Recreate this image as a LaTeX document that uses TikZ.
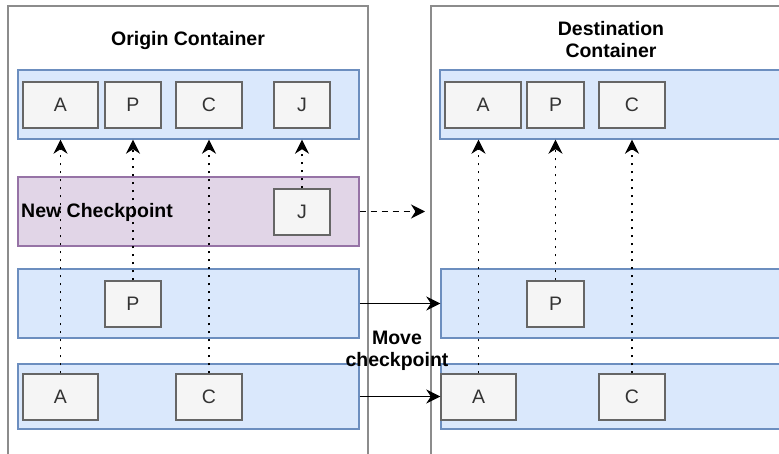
\documentclass[tikz,border=0pt]{standalone}
\usepackage{fontspec}
\setmainfont{Liberation Sans}
\usetikzlibrary{arrows.meta}
\definecolor{bluefill}{HTML}{DAE8FC}
\definecolor{bluedraw}{HTML}{6C8EBF}
\definecolor{purplefill}{HTML}{E1D5E7}
\definecolor{purpledraw}{HTML}{9673A6}
\definecolor{boxfill}{HTML}{F5F5F5}
\definecolor{boxdraw}{HTML}{666666}
\definecolor{boxtext}{HTML}{333333}
\definecolor{contdraw}{HTML}{8C8C8C}
\begin{document}
\begin{tikzpicture}[x=1pt,y=-1pt,
  container/.style={draw=contdraw, line width=1.3pt},
  rowblue/.style={draw=bluedraw, fill=bluefill, line width=1.4pt, inner sep=0pt, minimum height=69pt},
  rowpurple/.style={draw=purpledraw, fill=purplefill, line width=1.4pt, inner sep=0pt, minimum height=69pt},
  item/.style={draw=boxdraw, fill=boxfill, line width=1.4pt, inner sep=0pt, minimum height=46pt, text=boxtext, font=\fontsize{19.5}{22}\selectfont},
  titletext/.style={font=\fontsize{19.5}{22}\selectfont\bfseries, align=center, inner sep=0pt},
  dotarrow/.style={line width=1.6pt, dash pattern=on 2pt off 6pt, -{Stealth[length=14pt,width=14pt,inset=4.5pt]}},
  solidarrow/.style={line width=1.6pt, -{Stealth[length=14pt,width=14pt,inset=4.5pt]}},
  dasharrow/.style={line width=1.6pt, dash pattern=on 6pt off 5pt, -{Stealth[length=14pt,width=14pt,inset=4.5pt]}}
]
\useasboundingbox (0,0) rectangle (779,454);
\clip (0,0) rectangle (779,454);
\fill[white] (0,0) rectangle (779,454);

% containers
\draw[container] (8,6) rectangle (368,470);
\draw[container] (431,6) rectangle (800,470);

% titles
\node[titletext, anchor=base] (tOrigin) at (188,46) {Origin Container};
\node[titletext] (tDest) at (611,40) {Destination\\Container};

% origin rows
\node[rowblue, minimum width=341pt] (oTop) at (188.5,104.5) {};
\node[rowpurple, minimum width=341pt] (oNew) at (188.5,211.5) {};
\node[rowblue, minimum width=341pt] (oMid) at (188.5,303.5) {};
\node[rowblue, minimum width=341pt, minimum height=65pt] (oBot) at (188.5,396.5) {};

% destination rows
\node[rowblue, minimum width=360pt] (dTop) at (620,104.5) {};
\node[rowblue, minimum width=359pt] (dMid) at (620.5,303.5) {};
\node[rowblue, minimum width=359pt, minimum height=65pt] (dBot) at (620.5,396.5) {};

% origin boxes
\node[item, minimum width=75pt] (oA1) at (60.5,105) {A};
\node[item, minimum width=56pt] (oP1) at (133,105) {P};
\node[item, minimum width=66pt] (oC1) at (209,105) {C};
\node[item, minimum width=56pt] (oJ1) at (302,105) {J};
\node[item, minimum width=56pt] (oJ2) at (302,212) {J};
\node[item, minimum width=56pt] (oP2) at (133,304) {P};
\node[item, minimum width=75pt] (oA3) at (60.5,397) {A};
\node[item, minimum width=66pt] (oC3) at (209,397) {C};

% destination boxes
\node[item, minimum width=76pt] (dA1) at (483,105) {A};
\node[item, minimum width=57pt] (dP1) at (555.5,105) {P};
\node[item, minimum width=66pt] (dC1) at (632,105) {C};
\node[item, minimum width=57pt] (dP2) at (555.5,304) {P};
\node[item, minimum width=75pt] (dA3) at (478.5,397) {A};
\node[item, minimum width=66pt] (dC3) at (632,397) {C};

% labels
\node[titletext, anchor=west] (lNew) at (21,212) {New Checkpoint};
\node[titletext] (lMove) at (397,351) {Move\\checkpoint};

% dotted arrows
\draw[dotarrow] (oA3.north) -- (oA3.north |- oTop.south);
\draw[dotarrow] (oP2.north) -- (oP2.north |- oTop.south);
\draw[dotarrow] (oC3.north) -- (oC3.north |- oTop.south);
\draw[dotarrow] (oJ2.north) -- (oJ2.north |- oTop.south);
\draw[dotarrow] (dA3.north) -- (dA3.north |- dTop.south);
\draw[dotarrow] (dP2.north) -- (dP2.north |- dTop.south);
\draw[dotarrow] (dC3.north) -- (dC3.north |- dTop.south);

% moves
\coordinate (dashEnd) at (425,211.5);
\draw[dasharrow] (oNew.east) -- (dashEnd);
\draw[solidarrow] (oMid.east) -- (dMid.west);
\draw[solidarrow] (oBot.east) -- (dBot.west);
\end{tikzpicture}
\end{document}
